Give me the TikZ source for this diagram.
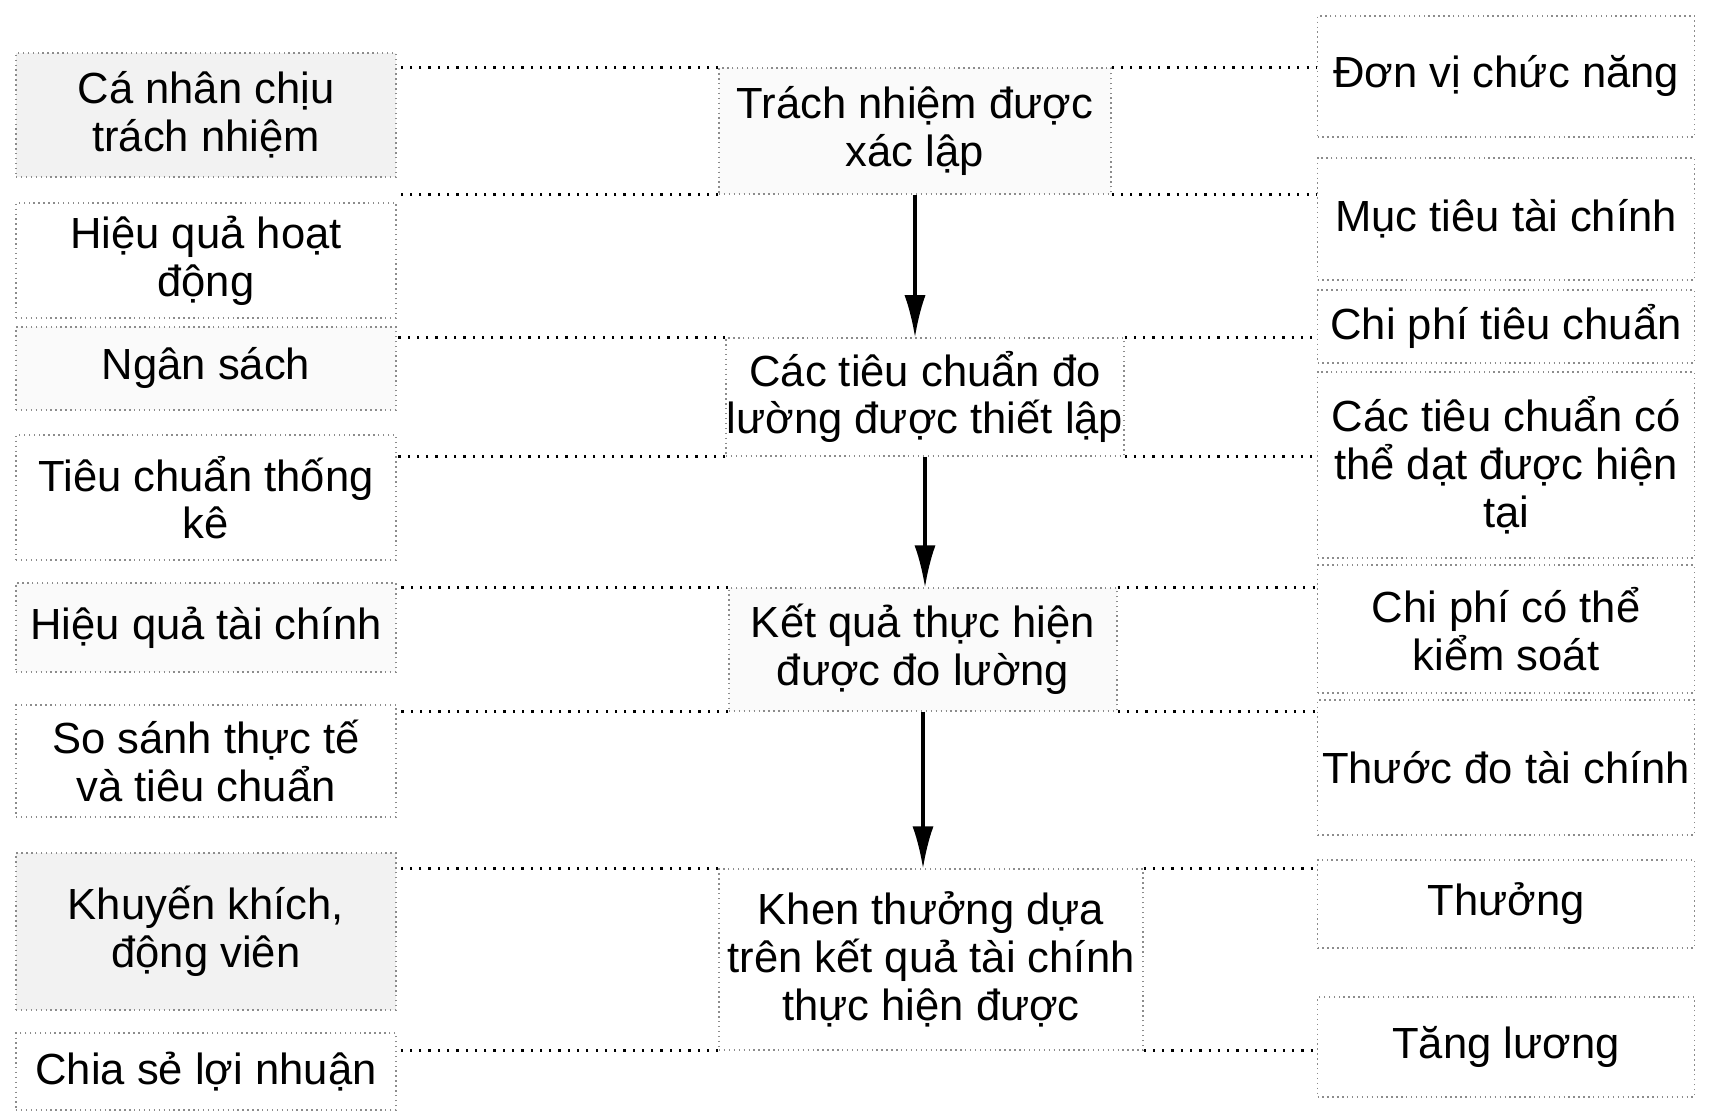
\documentclass[tikz,border=0pt]{standalone}
\usepackage{fontspec}
\setmainfont{Liberation Sans}
\usetikzlibrary{arrows.meta}
\tikzset{>={Latex[length=30pt,width=15pt]}}
\tikzset{
  box/.style={draw=black!45, dash pattern=on 1pt off 2.5pt, line width=0.9pt,
    inner sep=0pt, align=center, font=\fontsize{31}{34}\selectfont},
  lbox/.style={box, minimum width=9.5cm},
  rbox/.style={box, minimum width=9.425cm},
  shade/.style={fill=black!5},
  light/.style={fill=black!2},
  link/.style={dash pattern=on 1.6pt off 5pt, line width=2.3pt},
  flow/.style={->, line width=2.2pt}
}

\begin{document}
\begin{tikzpicture}
    \fill[white] (0,0) rectangle (42.875,-27.95);
    \useasboundingbox (0,0) rectangle (42.875,-27.95);

    % left column
    \node[lbox, shade, minimum height=3.1cm] (l1) at (5.15,-2.875) {Cá nhân chịu\\trách nhiệm};
    \node[lbox, minimum height=2.875cm] (l2) at (5.15,-6.51) {Hiệu quả hoạt\\động};
    \node[lbox, light, minimum height=2.075cm] (l3) at (5.15,-9.21) {Ngân sách};
    \node[lbox, minimum height=3.125cm] (l4) at (5.15,-12.44) {Tiêu chuẩn thống\\kê};
    \node[lbox, light, minimum height=2.225cm] (l5) at (5.15,-15.69) {Hiệu quả tài chính};
    \node[lbox, minimum height=2.8cm] (l6) at (5.15,-19.025) {So sánh thực tế\\và tiêu chuẩn};
    \node[lbox, shade, minimum height=3.925cm] (l7) at (5.15,-23.29) {Khuyến khích,\\động viên};
    \node[lbox, minimum height=1.925cm] (l8) at (5.15,-26.79) {Chia sẻ lợi nhuận};

    % middle column
    \node[box, light, minimum width=9.8cm, minimum height=3.15cm] (c1) at (22.875,-3.275)
    {Trách nhiệm được\\xác lập};
    \node[box, minimum width=9.95cm, minimum height=2.95cm] (c2) at (23.125,-9.925)
    {Các tiêu chuẩn đo\\lường được thiết lập};
    \node[box, light, minimum width=9.7cm, minimum height=3.075cm] (c3) at (23.075,-16.24)
    {Kết quả thực hiện\\được đo lường};
    \node[box, minimum width=10.6cm, minimum height=4.525cm] (c4) at (23.275,-23.99)
    {Khen thưởng dựa\\trên kết quả tài chính\\thực hiện được};

    % right column
    \node[rbox, minimum height=3.025cm] (r1) at (37.65,-1.91) {Đơn vị chức năng};
    \node[rbox, minimum height=3.05cm] (r2) at (37.65,-5.475) {Mục tiêu tài chính};
    \node[rbox, minimum height=1.825cm] (r3) at (37.65,-8.16) {Chi phí tiêu chuẩn};
    \node[rbox, minimum height=4.65cm] (r4) at (37.65,-11.625) {Các tiêu chuẩn có\\thể dạt được hiện\\tại};
    \node[rbox, minimum height=3.2cm] (r5) at (37.65,-15.725) {Chi phí có thể\\kiểm soát};
    \node[rbox, minimum height=3.375cm] (r6) at (37.65,-19.19) {Thước đo tài chính};
    \node[rbox, minimum height=2.2cm] (r7) at (37.65,-22.6) {Thưởng};
    \node[rbox, minimum height=2.5cm] (r8) at (37.65,-26.175) {Tăng lương};

    \draw[flow] (c1.south) -- (c1.south |- c2.north);
    \draw[flow] (c2.south) -- (c2.south |- c3.north);
    \draw[flow] (c3.south) -- (c3.south |- c4.north);

    \draw[link] (c1.north west) -- (c1.north west -| l1.east);
    \draw[link] (c1.south west) -- (c1.south west -| l2.east);
    \draw[link] (c2.north west) -- (c2.north west -| l3.east);
    \draw[link] (c2.south west) -- (c2.south west -| l4.east);
    \draw[link] (c3.north west) -- (c3.north west -| l5.east);
    \draw[link] (c3.south west) -- (c3.south west -| l6.east);
    \draw[link] (c4.north west) -- (c4.north west -| l7.east);
    \draw[link] (c4.south west) -- (c4.south west -| l8.east);

    \draw[link] (c1.north east) -- (c1.north east -| r1.west);
    \draw[link] (c1.south east) -- (c1.south east -| r2.west);
    \draw[link] (c2.north east) -- (c2.north east -| r3.west);
    \draw[link] (c2.south east) -- (c2.south east -| r4.west);
    \draw[link] (c3.north east) -- (c3.north east -| r5.west);
    \draw[link] (c3.south east) -- (c3.south east -| r6.west);
    \draw[link] (c4.north east) -- (c4.north east -| r7.west);
    \draw[link] (c4.south east) -- (c4.south east -| r8.west);
\end{tikzpicture}
\end{document}
